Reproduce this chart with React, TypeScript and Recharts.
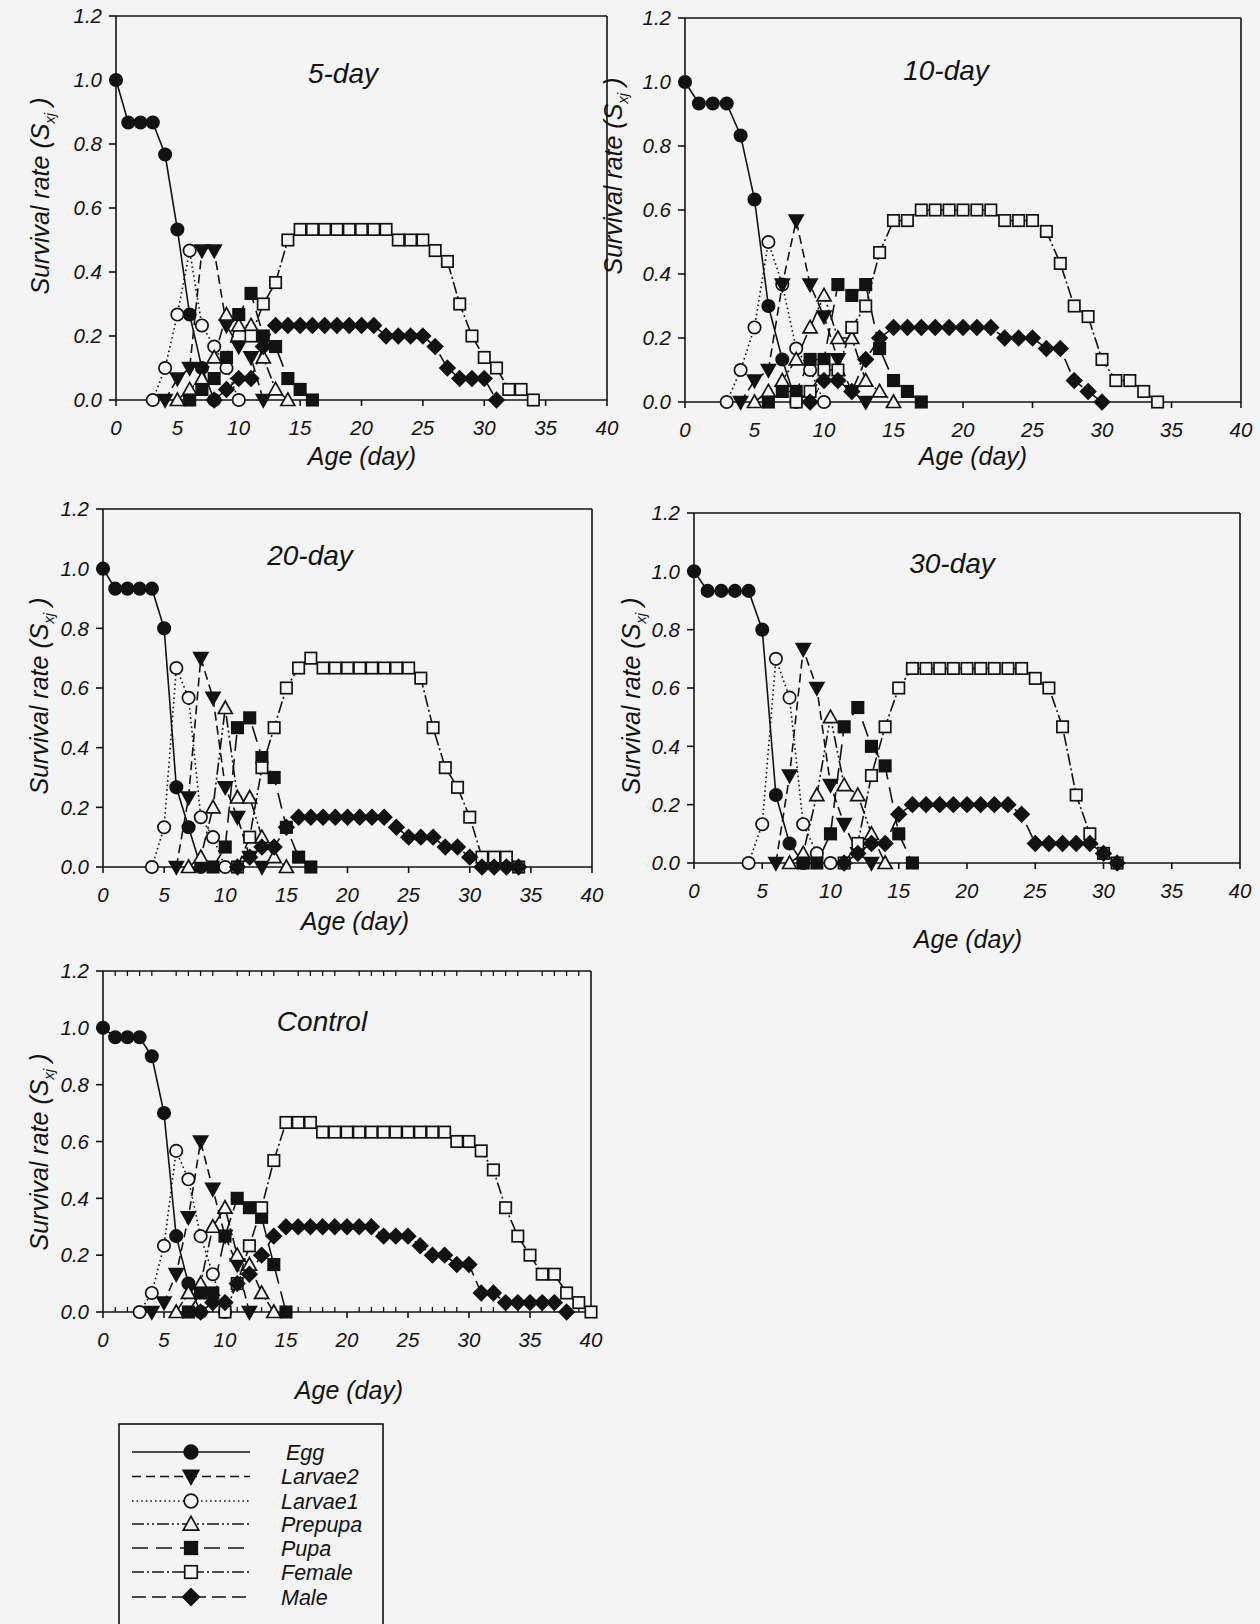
import React from 'react';
import { LineChart, Line, XAxis, YAxis } from 'recharts';

const AGES = [0,1,2,3,4,5,6,7,8,9,10,11,12,13,14,15,16,17,18,19,20,21,22,23,24,25,26,27,28,29,30,31,32,33,34,35,36,37,38,39,40];
const X_TICKS = [0,5,10,15,20,25,30,35,40];
const Y_TICKS = [0,0.2,0.4,0.6,0.8,1.0,1.2];
const MINOR_TICKS = [1,2,3,4,6,7,8,9,11,12,13,14,16,17,18,19,21,22,23,24,26,27,28,29,31,32,33,34,36,37,38,39];

const STAGE_KEYS = ['egg','larvae1','larvae2','prepupa','pupa','female','male'];
const LEGEND_KEYS = ['egg','larvae2','larvae1','prepupa','pupa','female','male'];
const LEGEND_LABELS = ['Egg','Larvae2','Larvae1','Prepupa','Pupa','Female','Male'];

// ---- 5-day ----
const d5Egg = { start: 0, values: [1,0.867,0.867,0.867,0.767,0.533,0.267,0.1,0] };
const d5Larvae2 = { start: 4, values: [0,0.067,0.1,0.467,0.467,0.233,0.167,0.133,0] };
const d5Larvae1 = { start: 3, values: [0,0.1,0.267,0.467,0.233,0.167,0.1,0] };
const d5Prepupa = { start: 5, values: [0,0.033,0.067,0.133,0.267,0.233,0.233,0.133,0.033,0] };
const d5Pupa = { start: 6, values: [0,0.033,0.067,0.133,0.267,0.333,0.2,0.167,0.067,0.033,0] };
const d5Female = { start: 11, values: [0.2,0.3,0.367,0.5,0.533,0.533,0.533,0.533,0.533,0.533,0.533,0.533,0.5,0.5,0.5,0.467,0.433,0.3,0.2,0.133,0.1,0.033,0.033,0] };
const d5Male = { start: 8, values: [0,0.033,0.067,0.067,0.167,0.233,0.233,0.233,0.233,0.233,0.233,0.233,0.233,0.233,0.2,0.2,0.2,0.2,0.167,0.1,0.067,0.067,0.067,0] };

// ---- 10-day ----
const d10Egg = { start: 0, values: [1,0.933,0.933,0.933,0.833,0.633,0.3,0.133,0] };
const d10Larvae2 = { start: 4, values: [0,0.067,0.1,0.367,0.567,0.367,0.267,0.133,0.033,0] };
const d10Larvae1 = { start: 3, values: [0,0.1,0.233,0.5,0.367,0.167,0.1,0] };
const d10Prepupa = { start: 5, values: [0,0.033,0.067,0.133,0.233,0.333,0.2,0.2,0.067,0.033,0] };
const d10Pupa = { start: 6, values: [0,0.033,0.033,0.133,0.133,0.367,0.333,0.367,0.167,0.067,0.033,0] };
const d10Female = { start: 8, values: [0,0.033,0.1,0.1,0.233,0.3,0.467,0.567,0.567,0.6,0.6,0.6,0.6,0.6,0.6,0.567,0.567,0.567,0.533,0.433,0.3,0.267,0.133,0.067,0.067,0.033,0] };
const d10Male = { start: 9, values: [0,0.067,0.067,0.033,0.133,0.2,0.233,0.233,0.233,0.233,0.233,0.233,0.233,0.233,0.2,0.2,0.2,0.167,0.167,0.067,0.033,0] };

// ---- 20-day ----
const d20Egg = { start: 0, values: [1,0.933,0.933,0.933,0.933,0.8,0.267,0.133,0] };
const d20Larvae2 = { start: 6, values: [0,0.233,0.7,0.567,0.267,0.167,0.033,0] };
const d20Larvae1 = { start: 4, values: [0,0.133,0.667,0.567,0.167,0.1,0] };
const d20Prepupa = { start: 7, values: [0,0.033,0.2,0.533,0.233,0.233,0.1,0.033,0] };
const d20Pupa = { start: 9, values: [0,0.067,0.467,0.5,0.367,0.3,0.133,0.033,0] };
const d20Female = { start: 11, values: [0,0.1,0.333,0.467,0.6,0.667,0.7,0.667,0.667,0.667,0.667,0.667,0.667,0.667,0.667,0.633,0.467,0.333,0.267,0.167,0.033,0.033,0.033,0] };
const d20Male = { start: 11, values: [0,0.033,0.067,0.067,0.133,0.167,0.167,0.167,0.167,0.167,0.167,0.167,0.167,0.133,0.1,0.1,0.1,0.067,0.067,0.033,0,0,0,0] };

// ---- 30-day ----
const d30Egg = { start: 0, values: [1,0.933,0.933,0.933,0.933,0.8,0.233,0.067,0] };
const d30Larvae2 = { start: 6, values: [0,0.3,0.733,0.6,0.267,0.133,0.033,0] };
const d30Larvae1 = { start: 4, values: [0,0.133,0.7,0.567,0.133,0.033,0] };
const d30Prepupa = { start: 7, values: [0,0.033,0.233,0.5,0.267,0.233,0.1,0] };
const d30Pupa = { start: 8, values: [0,0,0.1,0.467,0.533,0.4,0.333,0.1,0] };
const d30Female = { start: 11, values: [0,0.067,0.3,0.467,0.6,0.667,0.667,0.667,0.667,0.667,0.667,0.667,0.667,0.667,0.633,0.6,0.467,0.233,0.1,0.033,0] };
const d30Male = { start: 11, values: [0,0.033,0.067,0.067,0.167,0.2,0.2,0.2,0.2,0.2,0.2,0.2,0.2,0.167,0.067,0.067,0.067,0.067,0.067,0.033,0] };

// ---- Control ----
const ctEgg = { start: 0, values: [1,0.967,0.967,0.967,0.9,0.7,0.267,0.1,0] };
const ctLarvae2 = { start: 4, values: [0,0.033,0.133,0.333,0.6,0.433,0.267,0.167,0] };
const ctLarvae1 = { start: 3, values: [0,0.067,0.233,0.567,0.467,0.267,0.133,0] };
const ctPrepupa = { start: 6, values: [0,0.067,0.1,0.3,0.367,0.2,0.167,0.067,0] };
const ctPupa = { start: 7, values: [0,0.067,0.067,0.267,0.4,0.367,0.333,0.167,0] };
const ctFemale = { start: 10, values: [0,0.1,0.233,0.367,0.533,0.667,0.667,0.667,0.633,0.633,0.633,0.633,0.633,0.633,0.633,0.633,0.633,0.633,0.633,0.6,0.6,0.567,0.5,0.367,0.267,0.2,0.133,0.133,0.067,0.033,0] };
const ctMale = { start: 8, values: [0,0.033,0.033,0.1,0.133,0.2,0.267,0.3,0.3,0.3,0.3,0.3,0.3,0.3,0.3,0.267,0.267,0.267,0.233,0.2,0.2,0.167,0.167,0.067,0.067,0.033,0.033,0.033,0.033,0.033,0] };

type Seg = { start: number; values: number[] };

function buildRows(series: Record<string, Seg>) {
  return AGES.map((age) => {
    const row: Record<string, number | null> = { age };
    Object.keys(series).forEach((k) => {
      const s = series[k];
      const i = age - s.start;
      row[k] = i >= 0 && i < s.values.length ? s.values[i] : null;
    });
    return row;
  });
}

const INK = '#121212';
const BG = '#f4f4f4';
const FONT = '"Liberation Sans", Arial, sans-serif';

const STYLE: Record<string, { dash?: string; shape: string; filled: boolean }> = {
  egg: { shape: 'circle', filled: true },
  larvae2: { dash: '9 5', shape: 'triDown', filled: true },
  larvae1: { dash: '1.6 3', shape: 'circle', filled: false },
  prepupa: { dash: '12 3 2 3 2 3', shape: 'triUp', filled: false },
  pupa: { dash: '16 8', shape: 'square', filled: true },
  female: { dash: '12 3 2 3', shape: 'square', filled: false },
  male: { dash: '14 6', shape: 'diamond', filled: true },
};

function Marker({ shape, filled, cx, cy, s = 1 }: { shape: string; filled: boolean; cx: number; cy: number; s?: number }) {
  const fill = filled ? INK : BG;
  const common = { fill, stroke: INK, strokeWidth: 1.7 };
  if (shape === 'circle') return <circle cx={cx} cy={cy} r={6.2 * s} {...common} />;
  if (shape === 'triDown')
    return <polygon points={`${cx - 7 * s},${cy - 5.5 * s} ${cx + 7 * s},${cy - 5.5 * s} ${cx},${cy + 7 * s}`} {...common} />;
  if (shape === 'triUp')
    return <polygon points={`${cx},${cy - 7 * s} ${cx + 7 * s},${cy + 5.5 * s} ${cx - 7 * s},${cy + 5.5 * s}`} {...common} />;
  if (shape === 'square') return <rect x={cx - 5.7 * s} y={cy - 5.7 * s} width={11.4 * s} height={11.4 * s} {...common} />;
  return <polygon points={`${cx},${cy - 7.5 * s} ${cx + 7.5 * s},${cy} ${cx},${cy + 7.5 * s} ${cx - 7.5 * s},${cy}`} {...common} />;
}

const tickStyle = { fontSize: 20.5, fontStyle: 'italic', fill: INK, fontFamily: FONT };
const axisLineStyle = { stroke: INK, strokeWidth: 1.6 };
const minorLineStyle = { stroke: INK, strokeWidth: 1.3 };

type PanelProps = {
  series: Record<string, Seg>;
  x0: number; x1: number; y0: number; y1: number;
  minor?: boolean;
};

function Panel({ series, x0, x1, y0, y1, minor }: PanelProps) {
  const YW = 60, XH = 30;
  const ML = 40, MT = 20, MR = 30, MB = 50;
  const width = x1 - x0 + ML + YW + MR;
  const height = y1 - y0 + MT + MB + XH;
  const rows = buildRows(series);
  return (
    <div style={{ position: 'absolute', left: x0 - ML - YW, top: y0 - MT, width, height }}>
      <LineChart width={width} height={height} data={rows} margin={{ left: ML, top: MT, right: MR, bottom: MB }}>
        <XAxis
          dataKey="age" type="number" domain={[0, 40]} ticks={X_TICKS} interval={0}
          height={XH} tickSize={6} tickMargin={14}
          axisLine={axisLineStyle} tickLine={axisLineStyle}
          tick={tickStyle}
        />
        <XAxis
          xAxisId="top" orientation="top" mirror type="number" domain={[0, 40]}
          ticks={minor ? MINOR_TICKS : X_TICKS} interval={0}
          height={2} tickSize={minor ? 5 : 0} tick={tickStyle} tickFormatter={() => ''}
          tickLine={minor ? minorLineStyle : false}
          axisLine={axisLineStyle}
        />
        {minor && (
          <XAxis
            xAxisId="mbot" orientation="bottom" mirror type="number" domain={[0, 40]} ticks={MINOR_TICKS} interval={0}
            height={2} tickSize={5} tick={tickStyle} tickFormatter={() => ''}
            axisLine={false} tickLine={minorLineStyle}
          />
        )}
        <YAxis
          type="number" domain={[0, 1.2]} ticks={Y_TICKS} interval={0} width={YW}
          tickSize={7} tickMargin={7}
          tickFormatter={(v: number) => v.toFixed(1)}
          axisLine={axisLineStyle} tickLine={axisLineStyle}
          tick={tickStyle}
        />
        <YAxis
          yAxisId="right" orientation="right" mirror type="number" domain={[0, 1.2]} ticks={Y_TICKS} interval={0} width={2}
          tick={false} tickLine={false} axisLine={axisLineStyle}
        />
        {STAGE_KEYS.map((k) => {
          const st = STYLE[k];
          return (
            <Line
              key={k}
              dataKey={k}
              type="linear"
              stroke={INK}
              strokeWidth={1.6}
              strokeDasharray={st.dash}
              connectNulls={false}
              isAnimationActive={false}
              activeDot={false}
              dot={(p: any) => {
                if (p.cx == null || p.cy == null || p.value == null || Number.isNaN(p.cy)) return <g key={`d-${k}-${p.index}`} />;
                return (
                  <g key={`d-${k}-${p.index}`}>
                    <Marker shape={st.shape} filled={st.filled} cx={p.cx} cy={p.cy} />
                  </g>
                );
              }}
            />
          );
        })}
      </LineChart>
    </div>
  );
}

const PANELS: (PanelProps & { title: string; tx: number; ty: number; ax: number; ay: number; lx: number; ly: number })[] = [
  { series: { egg: d5Egg, larvae1: d5Larvae1, larvae2: d5Larvae2, prepupa: d5Prepupa, pupa: d5Pupa, female: d5Female, male: d5Male },
    x0: 116, x1: 607, y0: 16, y1: 400, title: '5-day', tx: 343, ty: 83, ax: 362, ay: 465, lx: 49, ly: 196 },
  { series: { egg: d10Egg, larvae1: d10Larvae1, larvae2: d10Larvae2, prepupa: d10Prepupa, pupa: d10Pupa, female: d10Female, male: d10Male },
    x0: 685, x1: 1241, y0: 18, y1: 402, title: '10-day', tx: 946, ty: 80, ax: 973, ay: 465, lx: 622, ly: 176 },
  { series: { egg: d20Egg, larvae1: d20Larvae1, larvae2: d20Larvae2, prepupa: d20Prepupa, pupa: d20Pupa, female: d20Female, male: d20Male },
    x0: 103, x1: 592, y0: 509, y1: 867, title: '20-day', tx: 310, ty: 565, ax: 355, ay: 930, lx: 48, ly: 696 },
  { series: { egg: d30Egg, larvae1: d30Larvae1, larvae2: d30Larvae2, prepupa: d30Prepupa, pupa: d30Pupa, female: d30Female, male: d30Male },
    x0: 694, x1: 1240, y0: 513, y1: 863, title: '30-day', tx: 952, ty: 573, ax: 968, ay: 948, lx: 640, ly: 696 },
  { series: { egg: ctEgg, larvae1: ctLarvae1, larvae2: ctLarvae2, prepupa: ctPrepupa, pupa: ctPupa, female: ctFemale, male: ctMale },
    x0: 103, x1: 591, y0: 971, y1: 1312, minor: true, title: 'Control', tx: 322, ty: 1031, ax: 349, ay: 1399, lx: 48, ly: 1152 },
];

const textBase = { fontFamily: FONT, fontStyle: 'italic' as const, fill: INK };

export default function App() {
  const legendRows = [1452, 1476.5, 1501, 1524, 1548, 1572, 1597];
  return (
    <div style={{ position: 'absolute', left: 0, top: 0, width: 1260, height: 1624, background: BG, overflow: 'hidden' }}>
      {PANELS.map((p, i) => (
        <Panel key={i} series={p.series} x0={p.x0} x1={p.x1} y0={p.y0} y1={p.y1} minor={p.minor} />
      ))}
      <svg width={1260} height={1624} style={{ position: 'absolute', left: 0, top: 0, pointerEvents: 'none' }}>
        {PANELS.map((p, i) => (
          <g key={i}>
            <text x={p.tx} y={p.ty} textAnchor="middle" fontSize={28} {...textBase}>{p.title}</text>
            <text x={p.ax} y={p.ay} textAnchor="middle" fontSize={25} {...textBase}>Age (day)</text>
            <text x={p.lx} y={p.ly} textAnchor="middle" fontSize={25} transform={`rotate(-90 ${p.lx} ${p.ly})`} {...textBase}>
              Survival rate (S<tspan fontSize={15} dy={6}>xj</tspan><tspan dy={-6}> )</tspan>
            </text>
          </g>
        ))}
        <rect x={119} y={1424} width={264} height={240} fill="none" stroke={INK} strokeWidth={1.6} />
        {LEGEND_KEYS.map((k, i) => {
          const st = STYLE[k];
          const y = legendRows[i];
          return (
            <g key={k}>
              <line x1={132} x2={250} y1={y} y2={y} stroke={INK} strokeWidth={1.6} strokeDasharray={st.dash} />
              <Marker shape={st.shape} filled={st.filled} cx={191} cy={y} s={1.1} />
              <text x={k === 'egg' ? 286 : 281} y={y + 7.5} fontSize={21.5} {...textBase}>{LEGEND_LABELS[i]}</text>
            </g>
          );
        })}
      </svg>
    </div>
  );
}
